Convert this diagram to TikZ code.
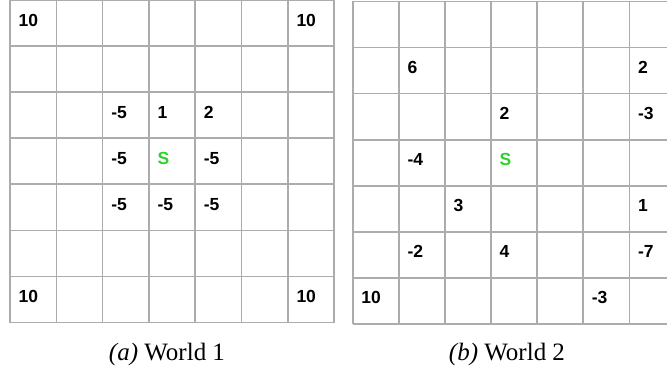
\documentclass[tikz,border=0pt]{standalone}
\usepackage{fontspec}
\setmainfont{Liberation Serif}
\newfontfamily\lsans{Liberation Sans}
\definecolor{gridgray}{RGB}{172,172,172}
\definecolor{sgreen}{RGB}{45,210,45}
\newcommand\Lval[4]{\node[val] (#1) at ({18.5+#2*46.3},{20+#3*46.07}) {#4};}
\newcommand\Rval[4]{\node[val] (#1) at ({361.2+#2*46.1},{21.5+#3*46.07}) {#4};}
\begin{document}
\begin{tikzpicture}[x=1pt,y=-1pt,
  val/.style={anchor=west,inner sep=0pt,font=\lsans\bfseries\fontsize{17.5}{20}\selectfont},
  startlbl/.style={text=sgreen},
  gridline/.style={draw=gridgray,line width=1.6pt},
  captionlbl/.style={anchor=base,inner sep=0pt,font=\fontsize{25}{28}\selectfont}]
\useasboundingbox (0,0) rectangle (667,369);
\clip (0,0) rectangle (667,369);
\fill[white] (0,0) rectangle (667,369);
% left grid
\foreach \i in {0,...,7} {
  \draw[gridline] ({10+\i*46.3},0) -- ({10+\i*46.3},322.5);
  \draw[gridline] (10,{\i*46.07}) -- (334.1,{\i*46.07});
}
% right grid
\foreach \i in {0,...,7} {
  \draw[gridline] ({352.7+\i*46.1},1.5) -- ({352.7+\i*46.1},324);
  \draw[gridline] (352.7,{1.5+\i*46.07}) -- (675.4,{1.5+\i*46.07});
}
% world 1 values
\Lval{a1}{0}{0}{10}
\Lval{a2}{6}{0}{10}
\Lval{a3}{2}{2}{-5}
\Lval{a4}{3}{2}{1}
\Lval{a5}{4}{2}{2}
\Lval{a6}{2}{3}{-5}
\node[val,startlbl] (sa) at ({18.5+3*46.3},{20+3*46.07}) {S};
\Lval{a7}{4}{3}{-5}
\Lval{a8}{2}{4}{-5}
\Lval{a9}{3}{4}{-5}
\Lval{a10}{4}{4}{-5}
\Lval{a11}{0}{6}{10}
\Lval{a12}{6}{6}{10}
% world 2 values
\Rval{b1}{1}{1}{6}
\Rval{b2}{6}{1}{2}
\Rval{b3}{3}{2}{2}
\Rval{b4}{6}{2}{-3}
\Rval{b5}{1}{3}{-4}
\node[val,startlbl] (sb) at ({361.2+3*46.1},{21.5+3*46.07}) {S};
\Rval{b6}{2}{4}{3}
\Rval{b7}{6}{4}{1}
\Rval{b8}{1}{5}{-2}
\Rval{b9}{3}{5}{4}
\Rval{b10}{6}{5}{-7}
\Rval{b11}{0}{6}{10}
\Rval{b12}{5}{6}{-3}
% captions
\node[captionlbl] (capa) at (167,360) {\textit{(a)} World 1};
\node[captionlbl] (capb) at (507,360) {\textit{(b)} World 2};
\end{tikzpicture}
\end{document}
